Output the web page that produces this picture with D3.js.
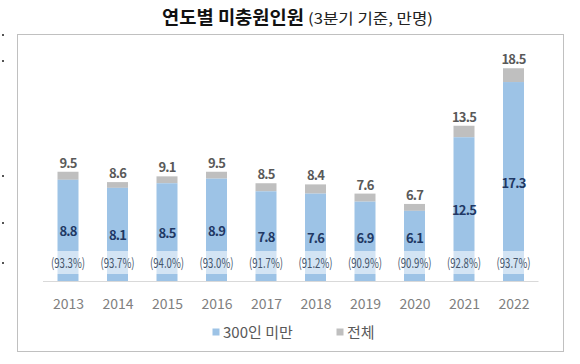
<!DOCTYPE html>
<html><head><meta charset="utf-8">
<script src="https://cdn.jsdelivr.net/npm/d3@7"></script>
<style>
html,body{margin:0;padding:0;background:#fff;}
svg{display:block;}
text{font-family:"Noto Sans CJK KR","Noto Sans",sans-serif;}
</style></head>
<body>
<svg id="c" width="580" height="364"></svg>
<script>
const years = ["2013","2014","2015","2016","2017","2018","2019","2020","2021","2022"];
const totalValues = [9.5, 8.6, 9.1, 9.5, 8.5, 8.4, 7.6, 6.7, 13.5, 18.5];
const under300Values = [8.8, 8.1, 8.5, 8.9, 7.8, 7.6, 6.9, 6.1, 12.5, 17.3];
const shareLabels = ["(93.3%)","(93.7%)","(94.0%)","(93.0%)","(91.7%)","(91.2%)","(90.9%)","(90.9%)","(92.8%)","(93.7%)"];
const seriesNames = ["300인 미만", "전체"];
const titleMain = "연도별 미충원인원";
const titleSub = "(3분기 기준, 만명)";

const blue = "#9DC3E6", grey = "#BFBFBF";
const svg = d3.select("#c");

// stray marks at left edge
[34, 60, 175, 222, 262].forEach(y => svg.append("rect").attr("x",2).attr("y",y).attr("width",2).attr("height",2).attr("fill","#555"));

// frame
svg.append("rect").attr("x",17.5).attr("y",34.5).attr("width",546).attr("height",317)
  .attr("fill","none").attr("stroke","#808080").attr("stroke-width",1).attr("stroke-dasharray","1,1");

// title
svg.append("text").attr("x",162).attr("y",24).attr("font-size",18).attr("font-weight",700)
  .attr("fill","#111").attr("textLength",142).attr("lengthAdjust","spacingAndGlyphs").text(titleMain);
svg.append("text").attr("x",308).attr("y",24).attr("font-size",14.5)
  .attr("fill","#222").attr("textLength",125).attr("lengthAdjust","spacingAndGlyphs").text(titleSub);

const x = d3.scalePoint().domain(years).range([68, 513.5]);
const y = d3.scaleLinear().domain([0, 20]).range([281, 51]);
const bw = 21;

const data = years.map((yr,i)=>({yr, total: totalValues[i], under: under300Values[i], share: shareLabels[i]}));

// axis line
svg.append("line").attr("x1",43).attr("x2",538.5).attr("y1",281.5).attr("y2",281.5)
  .attr("stroke","#D9D9D9").attr("stroke-width",1.2);

const g = svg.append("g");
g.selectAll("rect.tot").data(data).join("rect").attr("class","tot")
  .attr("x",d=>x(d.yr)-bw/2).attr("width",bw)
  .attr("y",d=>y(d.total)).attr("height",d=>y(d.under)-y(d.total)).attr("fill",grey);
g.selectAll("rect.und").data(data).join("rect").attr("class","und")
  .attr("x",d=>x(d.yr)-bw/2).attr("width",bw)
  .attr("y",d=>y(d.under)).attr("height",d=>y(0)-y(d.under)).attr("fill",blue);

g.selectAll("rect.box").data(data).join("rect").attr("class","box")
  .attr("x",d=>x(d.yr)-20).attr("width",40).attr("y",251).attr("height",23)
  .attr("fill","#fff").attr("fill-opacity",0.55);

g.selectAll("text.share").data(data).join("text").attr("class","share")
  .attr("x",d=>x(d.yr)).attr("y",268).attr("text-anchor","middle")
  .attr("font-size",13).attr("fill","#44546A")
  .attr("textLength",34).attr("lengthAdjust","spacingAndGlyphs")
  .text(d=>d.share);

g.selectAll("text.uv").data(data).join("text").attr("class","uv")
  .attr("x",d=>x(d.yr)).attr("y",d=>Math.min((y(d.under)+y(0))/2+1.5, 238.5)+4.5)
  .attr("text-anchor","middle").attr("font-size",13).attr("font-weight",700)
  .attr("fill","#1F3864").attr("letter-spacing",-0.8)
  .text(d=>d3.format(".1f")(d.under));

g.selectAll("text.tv").data(data).join("text").attr("class","tv")
  .attr("x",d=>x(d.yr)).attr("y",d=>y(d.total)-4)
  .attr("text-anchor","middle").attr("font-size",13).attr("font-weight",600)
  .attr("fill","#595959").attr("letter-spacing",-0.8)
  .text(d=>d3.format(".1f")(d.total));

const xa = svg.append("g").attr("transform","translate(0,281)")
  .call(d3.axisBottom(x).tickSize(0).tickPadding(0));
xa.select(".domain").remove();
xa.selectAll("text").attr("font-size",14).attr("fill","#808080")
  .attr("font-family","'Noto Sans',sans-serif").attr("dy",0).attr("y",28);

const leg = svg.append("g");
leg.append("rect").attr("x",212.5).attr("y",328.5).attr("width",7).attr("height",7).attr("fill",blue);
leg.append("text").attr("x",223).attr("y",337.5).attr("font-size",15).attr("fill","#595959").text(seriesNames[0]);
leg.append("rect").attr("x",336.5).attr("y",328.5).attr("width",7).attr("height",7).attr("fill",grey);
leg.append("text").attr("x",347).attr("y",337.5).attr("font-size",15).attr("fill","#595959").text(seriesNames[1]);
</script>
</body></html>
